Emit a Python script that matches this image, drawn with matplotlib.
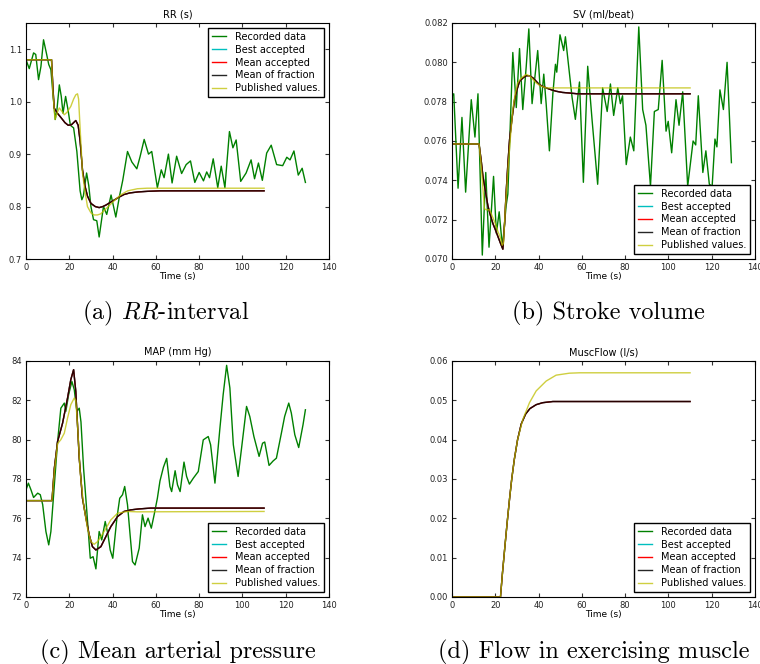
import numpy as np
import matplotlib
matplotlib.use("Agg")
import matplotlib.pyplot as plt
from matplotlib.ticker import FormatStrFormatter

#------------------------------------------#
# Donnees
#------------------------------------------#

# (a) RR-interval
rr_rec_t = [0, 1.5, 3.5, 4.5, 5.8, 6.9, 8.1, 9.4, 10.5, 11.5, 12.4, 13.5, 14.3, 15.4, 16.3, 17.1,
            18.3, 19.4, 20.5, 22.0, 23.5, 25.0, 25.8, 26.5, 28.0, 29.0, 30.0, 31.2, 32.7, 33.8,
            35.8, 37.3, 39.3, 41.5, 43.2, 44.7, 46.9, 48.9, 51.2, 52.7, 54.6, 56.6, 58.1, 60.7,
            62.5, 63.8, 65.8, 67.5, 69.6, 71.9, 74.0, 76.0, 78.0, 80.0, 82.0, 83.5, 84.8, 86.5,
            88.6, 90.2, 91.9, 94.0, 95.6, 97.1, 99.2, 101.7, 104.0, 105.6, 107.4, 109.2, 111.2,
            113.3, 115.8, 118.6, 120.5, 122.0, 123.8, 125.8, 127.6, 129.1]
rr_rec = [1.080, 1.063, 1.093, 1.090, 1.042, 1.067, 1.118, 1.093, 1.071, 1.061, 1.017, 0.966, 0.985,
          1.032, 1.010, 0.978, 1.010, 0.985, 0.955, 0.950, 0.905, 0.830, 0.813, 0.820, 0.864, 0.840,
          0.800, 0.775, 0.773, 0.742, 0.800, 0.785, 0.822, 0.780, 0.820, 0.850, 0.905, 0.885, 0.872,
          0.895, 0.928, 0.900, 0.905, 0.836, 0.870, 0.855, 0.900, 0.845, 0.896, 0.863, 0.880, 0.887,
          0.846, 0.865, 0.849, 0.866, 0.855, 0.891, 0.836, 0.877, 0.836, 0.943, 0.912, 0.927, 0.848,
          0.864, 0.889, 0.853, 0.883, 0.850, 0.902, 0.917, 0.880, 0.878, 0.894, 0.889, 0.906, 0.860,
          0.873, 0.846]
rr_mod_t = [0, 11.8, 12.4, 13.0, 14.5, 16.1, 18.0, 19.5, 21.0, 23.0, 24.1, 25.0, 26.1, 27.2, 28.4,
            30.0, 32.0, 33.8, 35.5, 37.0, 39.0, 41.0, 43.0, 45.3, 48.0, 52.0, 56.0, 62.0, 70.0, 110.0]
rr_frac = [1.08, 1.08, 1.03, 0.988, 0.978, 0.970, 0.960, 0.955, 0.956, 0.964, 0.955, 0.925, 0.870,
           0.840, 0.820, 0.806, 0.800, 0.798, 0.800, 0.803, 0.808, 0.813, 0.818, 0.823, 0.826, 0.828,
           0.829, 0.830, 0.830, 0.830]
rr_pub_t = [0, 11.8, 12.4, 13.4, 14.5, 15.4, 16.5, 17.7, 19.0, 20.7, 22.0, 23.0, 23.8, 24.3, 25.0,
            26.1, 27.2, 28.4, 30.0, 31.5, 33.0, 34.5, 36.0, 38.0, 40.0, 42.0, 44.0, 47.0, 51.5, 56.0,
            110.0]
rr_pub = [1.08, 1.08, 1.02, 0.966, 0.980, 0.988, 0.982, 0.975, 0.980, 0.991, 1.005, 1.013, 1.015,
          1.005, 0.950, 0.864, 0.830, 0.800, 0.788, 0.784, 0.784, 0.786, 0.792, 0.800, 0.808, 0.816,
          0.823, 0.830, 0.834, 0.835, 0.835]

# (b) Stroke volume
sv_rec_t = [0, 0.8, 2.8, 4.6, 6.3, 8.9, 10.6, 12.0, 14.0, 15.6, 17.1, 19.2, 20.5, 21.8, 23.3, 25.0,
            25.8, 28.1, 29.7, 31.2, 32.7, 34.3, 35.5, 37.0, 39.6, 41.2, 42.4, 43.5, 45.0, 46.6, 47.8,
            48.4, 49.9, 51.6, 52.4, 53.9, 55.5, 57.0, 58.9, 60.7, 62.7, 64.7, 67.3, 69.6, 71.7, 73.2,
            74.7, 76.6, 77.8, 78.8, 80.5, 82.4, 84.0, 86.3, 88.1, 89.6, 91.7, 93.5, 95.3, 97.1, 98.9,
            99.9, 101.5, 103.5, 104.9, 106.6, 108.9, 111.4, 112.6, 113.8, 115.9, 117.3, 118.9, 120.2,
            121.5, 122.4, 123.8, 125.4, 127.1, 129.1]
sv_rec = [0.0783, 0.0784, 0.0736, 0.0772, 0.0734, 0.0781, 0.0762, 0.0784, 0.0702, 0.0744, 0.0706,
          0.0742, 0.0713, 0.0724, 0.0706, 0.0727, 0.0733, 0.0805, 0.0777, 0.0807, 0.0776, 0.0798,
          0.0817, 0.0779, 0.0806, 0.0779, 0.0794, 0.0779, 0.0755, 0.0784, 0.0799, 0.0795, 0.0814,
          0.0806, 0.0813, 0.0798, 0.0782, 0.0771, 0.0790, 0.0739, 0.0798, 0.0771, 0.0738, 0.0787,
          0.0775, 0.0789, 0.0773, 0.0787, 0.0779, 0.0783, 0.0748, 0.0762, 0.0755, 0.0818, 0.0776,
          0.0768, 0.0737, 0.0775, 0.0776, 0.0801, 0.0765, 0.0770, 0.0754, 0.0781, 0.0768, 0.0785,
          0.0737, 0.0760, 0.0758, 0.0783, 0.0744, 0.0755, 0.0738, 0.0737, 0.0761, 0.0757, 0.0786,
          0.0776, 0.0800, 0.0749]
sv_mod_t = [0, 12.5, 13.5, 14.3, 15.5, 16.6, 17.8, 18.9, 20.0, 21.2, 22.4, 23.5, 24.3, 25.0, 25.8,
            26.6, 27.8, 28.9, 30.0, 31.2, 32.7, 34.3, 35.8, 37.5, 40.4, 43.5, 46.0, 48.1, 51.0, 54.2,
            58.0, 110.0]
sv_frac = [0.07585, 0.07585, 0.0750, 0.0742, 0.0734, 0.0727, 0.0722, 0.0718, 0.0715, 0.07115, 0.0708,
           0.0705, 0.0718, 0.07336, 0.0748, 0.07607, 0.0772, 0.0781, 0.0786, 0.07903, 0.0792, 0.07932,
           0.07932, 0.0792, 0.07886, 0.0787, 0.0786, 0.07853, 0.07847, 0.07844, 0.0784, 0.0784]
sv_pub_t = [0, 12.5, 13.3, 14.0, 15.0, 16.0, 17.4, 18.9, 20.0, 21.2, 22.3, 23.2, 23.8, 24.6, 25.8,
            27.0, 28.1, 29.2, 30.4, 32.0, 34.3, 36.0, 38.9, 41.0, 43.5, 46.0, 48.1, 52.0, 110.0]
sv_pub = [0.07585, 0.07585, 0.0750, 0.0740, 0.07255, 0.0725, 0.0725, 0.0721, 0.0718, 0.0714, 0.0711,
          0.0707, 0.0708, 0.0725, 0.0745, 0.0762, 0.07761, 0.0784, 0.07897, 0.0792, 0.07939, 0.0793,
          0.07895, 0.0788, 0.0787, 0.0787, 0.0787, 0.0787, 0.0787]

# (c) Mean arterial pressure
map_rec_t = [0, 1.1, 2.3, 3.5, 5.4, 6.6, 7.7, 9.2, 10.5, 11.5, 13.1, 14.6, 16.1, 17.7, 18.4, 19.7,
             21.2, 22.3, 23.5, 24.6, 25.4, 26.6, 28.1, 29.7, 31.0, 32.3, 33.8, 35.0, 36.6, 37.9,
             38.9, 40.1, 42.0, 43.3, 44.6, 45.6, 46.9, 48.1, 49.2, 50.4, 52.3, 53.8, 55.0, 56.4,
             57.9, 59.2, 60.7, 61.9, 63.5, 65.0, 66.5, 67.3, 68.9, 70.0, 71.2, 73.0, 74.2, 75.5,
             77.3, 79.6, 81.9, 84.2, 85.3, 87.3, 89.6, 91.1, 92.7, 94.2, 95.8, 98.0, 99.6, 101.9,
             103.4, 105.3, 107.7, 109.3, 110.3, 112.3, 114.2, 115.7, 118.0, 119.5, 121.4, 122.6,
             124.2, 126.0, 128.0, 129.1]
map_rec = [77.45, 77.79, 77.45, 77.06, 77.28, 77.20, 76.70, 75.33, 74.65, 75.33, 77.70, 79.90, 81.60,
           81.86, 81.44, 82.29, 82.96, 82.54, 81.44, 81.60, 80.90, 78.55, 76.35, 73.97, 74.05, 73.43,
           75.33, 74.90, 75.84, 75.16, 74.39, 73.97, 76.01, 77.02, 77.20, 77.62, 76.69, 75.16, 73.80,
           73.63, 74.48, 76.18, 75.58, 76.01, 75.50, 76.18, 77.02, 77.90, 78.60, 79.05, 77.62, 77.36,
           78.42, 77.70, 77.36, 78.86, 78.13, 77.74, 78.04, 78.38, 79.99, 80.16, 79.74, 77.79, 80.59,
           82.29, 83.78, 82.63, 79.74, 78.13, 79.57, 81.69, 81.18, 80.16, 79.15, 79.82, 79.88, 78.69,
           78.92, 79.06, 80.33, 81.18, 81.86, 81.35, 80.25, 79.60, 80.76, 81.52]
map_mod_t = [0, 12.0, 13.1, 14.6, 16.9, 19.2, 20.7, 22.0, 23.0, 24.6, 26.1, 27.7, 29.2, 30.7, 32.3,
             34.6, 36.9, 39.2, 42.3, 45.3, 48.4, 52.3, 57.6, 110.0]
map_frac = [76.9, 76.9, 78.55, 79.91, 80.84, 82.12, 83.05, 83.56, 82.46, 79.06, 77.02, 76.01, 75.16,
            74.56, 74.39, 74.56, 75.07, 75.58, 76.09, 76.35, 76.43, 76.48, 76.52, 76.52]
map_pub_t = [0, 12.0, 13.1, 14.6, 16.1, 17.7, 19.2, 20.7, 22.3, 23.0, 23.8, 25.0, 26.6, 28.4, 30.0,
             31.5, 33.1, 36.1, 39.2, 42.3, 46.9, 51.5, 110.0]
map_pub = [76.9, 76.9, 78.4, 79.8, 80.0, 80.33, 81.1, 81.78, 82.12, 82.0, 80.76, 78.38, 76.69, 75.5,
           74.82, 74.68, 74.82, 75.33, 75.92, 76.26, 76.35, 76.33, 76.35]

# (d) Flow in exercising muscle (pas de donnees enregistrees)
mf_rec_t = []
mf_rec = []
mf_mod_t = [0, 22.4, 23.3, 24.3, 25.5, 26.6, 27.6, 28.8, 30.3, 32.0, 34.0, 36.0, 38.9, 41.9, 46.6, 110.0]
mf_frac = [0, 0, 0.006, 0.012, 0.019, 0.025, 0.030, 0.035, 0.040, 0.0440, 0.0465, 0.0479, 0.0489,
           0.0494, 0.0497, 0.0497]
mf_pub_t = [0, 22.4, 23.3, 24.3, 25.5, 26.6, 27.6, 28.8, 30.3, 32.7, 35.8, 38.9, 43.5, 48.1, 54.2,
            58.9, 110.0]
mf_pub = [0, 0, 0.006, 0.012, 0.019, 0.025, 0.030, 0.035, 0.040, 0.0451, 0.0494, 0.0524, 0.0549,
          0.0564, 0.0569, 0.0570, 0.0570]

titles = ["RR (s)", "SV (ml/beat)", "MAP (mm Hg)", "MuscFlow (l/s)"]
captions = [r"(a) $RR$-interval", "(b) Stroke volume", "(c) Mean arterial pressure",
            "(d) Flow in exercising muscle"]
labels = ["Recorded data", "Best accepted", "Mean accepted", "Mean of fraction", "Published values."]

#------------------------------------------#

plt.rcParams['mathtext.fontset'] = 'cm'
plt.rcParams['xtick.direction'] = 'in'
plt.rcParams['ytick.direction'] = 'in'
plt.rcParams['xtick.top'] = True
plt.rcParams['ytick.right'] = True


def draw_panel(ax, rec_t, rec, mod_t, frac, pub_t, pub, title, ylim, yticks, fmt, loc):
    """Trace un panneau : mesure, trois courbes du modele et valeurs publiees"""
    ax.plot(rec_t, rec, color='g', lw=1.0, label=labels[0])
    ax.plot(mod_t, frac, color='c', lw=1.0, label=labels[1])
    ax.plot(mod_t, frac, color='r', lw=1.0, label=labels[2])
    ax.plot(mod_t, frac, color='k', lw=1.0, alpha=0.85, label=labels[3])
    ax.plot(pub_t, pub, color='y', lw=1.0, alpha=0.75, label=labels[4])
    ax.set_xlim(0, 140)
    ax.set_ylim(*ylim)
    ax.set_xticks(np.arange(0, 141, 20))
    ax.set_yticks(yticks)
    ax.yaxis.set_major_formatter(FormatStrFormatter(fmt))
    ax.tick_params(labelsize=6, length=3, pad=3, color='#333333', labelcolor='#222222')
    ax.set_title(title, fontsize=7, pad=4)
    ax.set_xlabel("Time (s)", fontsize=6.5, labelpad=0)
    leg = ax.legend(loc=loc, fontsize=7, handlelength=1.5, handletextpad=0.9,
                    labelspacing=0.3, borderpad=0.4, fancybox=False, framealpha=1)
    leg.get_frame().set_edgecolor('black')
    leg.get_frame().set_linewidth(1.0)


fig = plt.figure(figsize=(7.6, 6.64), dpi=100)
w, h = 303 / 760, 236 / 664
ax_a = fig.add_axes([26 / 760, 1 - 259 / 664, w, h])
ax_b = fig.add_axes([452 / 760, 1 - 259 / 664, w, h])
ax_c = fig.add_axes([26 / 760, 1 - 597 / 664, w, h])
ax_d = fig.add_axes([452 / 760, 1 - 597 / 664, w, h])

draw_panel(ax_a, rr_rec_t, rr_rec, rr_mod_t, rr_frac, rr_pub_t, rr_pub, titles[0],
           (0.7, 1.15), [0.7, 0.8, 0.9, 1.0, 1.1], '%.1f', 'upper right')
draw_panel(ax_b, sv_rec_t, sv_rec, sv_mod_t, sv_frac, sv_pub_t, sv_pub, titles[1],
           (0.070, 0.082), np.arange(0.070, 0.0821, 0.002), '%.3f', 'lower right')
draw_panel(ax_c, map_rec_t, map_rec, map_mod_t, map_frac, map_pub_t, map_pub, titles[2],
           (72, 84), np.arange(72, 85, 2), '%d', 'lower right')
draw_panel(ax_d, mf_rec_t, mf_rec, mf_mod_t, mf_frac, mf_pub_t, mf_pub, titles[3],
           (0, 0.06), np.arange(0, 0.061, 0.01), '%.2f', 'lower right')

#------------------------------------------#
# Legendes des sous-figures
#------------------------------------------#
cap_pos = [(166, 313), (608, 313), (178, 652), (594, 652)]
for txt, (x, y) in zip(captions, cap_pos):
    fig.text(x / 760, 1 - y / 664, txt, fontsize=17.5, family='cmr10',
             ha='center', va='center')

fig.savefig("out.png", dpi=100, facecolor='white')
